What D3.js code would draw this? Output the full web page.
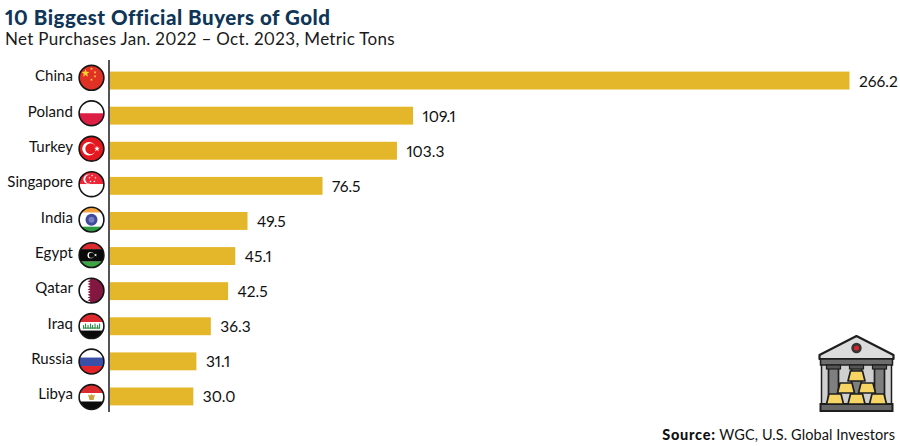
<!DOCTYPE html>
<html>
<head>
<meta charset="utf-8">
<script src="https://cdn.jsdelivr.net/npm/d3@7"></script>
<style>
    html, body { margin: 0; padding: 0; background: #fff; }
    svg { display: block; }
    text { font-family: Lato, "Open Sans", sans-serif; font-variant-numeric: proportional-nums lining-nums; }
</style>
</head>
<body>
<div id="chart"></div>
<script>
// chart values
var countries = ["China", "Poland", "Turkey", "Singapore", "India", "Egypt", "Qatar", "Iraq", "Russia", "Libya"];
var tons = [266.2, 109.1, 103.3, 76.5, 49.5, 45.1, 42.5, 36.3, 31.1, 30.0];
// flag drawn next to each label (the picture has Egypt and Libya swapped, kept as is)
var flags = ["china", "poland", "turkey", "singapore", "india", "libya", "qatar", "iraq", "russia", "egypt"];

var titleText = "10 Biggest Official Buyers of Gold";
var subtitleText = "Net Purchases Jan. 2022 \u2013 Oct. 2023, Metric Tons";
var sourceBold = "Source:";
var sourceText = " WGC, U.S. Global Investors";

var width = 900, height = 446;
var svg = d3.select("#chart").append("svg").attr("width", width).attr("height", height);

// scales - bars, labels and flags each sit on a slightly different spacing in the picture
var x = d3.scaleLinear().domain([0, 266.2]).range([110, 849.5]);
var y = d3.scaleBand().domain(countries).range([63, 414]).paddingInner(0.49).paddingOuter(0.245);
var labelY = d3.scalePoint().domain(countries).range([76, 394]);
var flagY = d3.scalePoint().domain(countries).range([77.8, 397]);

// titles
svg.append("text").attr("x", 5).attr("y", 24.5).attr("fill", "#0f3557")
    .style("font-size", "20.5px").style("font-weight", 900).style("letter-spacing", "0.52px").text(titleText);
svg.append("text").attr("x", 5).attr("y", 45).attr("fill", "#1a1a1a")
    .style("font-size", "17px").style("letter-spacing", "0.32px").text(subtitleText);

// bars
svg.selectAll("rect.bar").data(tons).enter().append("rect").attr("class", "bar")
    .attr("x", x(0))
    .attr("y", (d, i) => y(countries[i]))
    .attr("width", d => x(d) - x(0))
    .attr("height", y.bandwidth())
    .attr("fill", "#e4b62a");

// value labels
svg.selectAll("text.val").data(tons).enter().append("text").attr("class", "val")
    .attr("x", d => x(d) + 9.5)
    .attr("y", (d, i) => y(countries[i]) + y.bandwidth() / 2 + 6)
    .attr("fill", "#111")
    .style("font-size", "15.5px")
    .text(d => d.toFixed(1));

// axis line + country labels
var axisY = d3.axisLeft(labelY).tickSize(0).tickPadding(36);
var yAxis = svg.append("g").attr("transform", "translate(109,0)").call(axisY);
yAxis.select(".domain").remove();
yAxis.selectAll("text").attr("fill", "#111").attr("dy", "0.32em")
    .style("font-size", "15px").style("letter-spacing", "0.05px");
svg.append("line").attr("x1", 109).attr("x2", 109).attr("y1", 60).attr("y2", 412)
    .attr("stroke", "#2a2a2a").attr("stroke-width", 1.6);

// flags
var defs = svg.append("defs");
defs.append("clipPath").attr("id", "flagClip").append("circle").attr("r", 12.4);

function band(g, y0, h, color) {
    g.append("rect").attr("x", -13).attr("y", y0).attr("width", 26).attr("height", h).attr("fill", color);
}
function star(g, cx, cy, r, color) {
    var pts = d3.range(10).map(function(k) {
        var a = -Math.PI / 2 + k * Math.PI / 5, rr = k % 2 ? r * 0.42 : r;
        return [cx + rr * Math.cos(a), cy + rr * Math.sin(a)].join(",");
    });
    g.append("polygon").attr("points", pts.join(" ")).attr("fill", color);
}
var drawFlag = {
    china: function(g) {
        band(g, -13, 26, "#e03126");
        star(g, -6, -4.5, 4.2, "#f8d22c");
        [[0, -9], [3.5, -5.5], [3.5, -1.5], [0, 2]].forEach(p => star(g, p[0], p[1], 1.5, "#f8d22c"));
    },
    poland: function(g) {
        band(g, -13, 13, "#fff");
        band(g, 0, 13, "#dd1f45");
    },
    turkey: function(g) {
        band(g, -13, 26, "#e3191f");
        g.append("circle").attr("cx", -2.5).attr("r", 6.8).attr("fill", "#fff");
        g.append("circle").attr("cx", -0.8).attr("r", 5.4).attr("fill", "#e3191f");
        star(g, 5.5, 0, 3, "#fff");
    },
    singapore: function(g) {
        band(g, -13, 13, "#ee2536");
        band(g, 0, 13, "#fff");
        g.append("circle").attr("cx", -3.5).attr("cy", -5).attr("r", 4.6).attr("fill", "#fff");
        g.append("circle").attr("cx", -1.8).attr("cy", -5).attr("r", 4.4).attr("fill", "#ee2536");
        [[0, -9], [3.4, -6.6], [2.2, -3], [-1.6, -3], [-2.6, -6.6]].forEach(p => star(g, p[0] + 0.6, p[1] + 0.2, 1.2, "#fff"));
    },
    india: function(g) {
        band(g, -13, 6, "#f5a13c");
        band(g, -7, 14, "#fff");
        band(g, 7, 6, "#2f9a44");
        g.append("circle").attr("r", 6).attr("fill", "#3f4b9d");
        g.append("circle").attr("r", 3).attr("fill", "#7a7fc0");
    },
    libya: function(g) {
        band(g, -13, 7, "#dd2a2e");
        band(g, -6, 12.5, "#0a0a0a");
        band(g, 6.5, 7, "#3ca544");
        g.append("circle").attr("cx", -0.8).attr("r", 3.2).attr("fill", "#fff");
        g.append("circle").attr("cx", 0).attr("r", 2.6).attr("fill", "#0a0a0a");
        star(g, 4, 0, 1.7, "#fff");
    },
    qatar: function(g) {
        band(g, -13, 26, "#84173f");
        var pts = [[-13, -13], [-4, -13]];
        d3.range(9).forEach(function(k) {
            var yy = -12 + k * 2.7;
            pts.push([-1, yy + 1.35], [-4, yy + 2.7]);
        });
        pts.push([-13, 13]);
        g.append("polygon").attr("points", pts.map(p => p.join(",")).join(" ")).attr("fill", "#fff");
    },
    iraq: function(g) {
        band(g, -13, 9, "#dd2a2e");
        band(g, -4, 8.5, "#fff");
        band(g, 4.5, 9, "#0a0a0a");
        // green script reduced to a few strokes
        [-8, -6, -3.5, -1, 1, 3.5, 6, 8].forEach(function(sx, k) {
            g.append("rect").attr("x", sx - 0.5).attr("y", k % 2 ? -2.5 : -1).attr("width", 1.1).attr("height", k % 2 ? 5 : 3.5).attr("fill", "#2f8f4a");
        });
        g.append("rect").attr("x", -8.5).attr("y", 1.4).attr("width", 17).attr("height", 1.2).attr("fill", "#2f8f4a");
    },
    russia: function(g) {
        band(g, -13, 9, "#fff");
        band(g, -4, 8.5, "#3a50a8");
        band(g, 4.5, 9, "#e3242b");
    },
    egypt: function(g) {
        band(g, -13, 9, "#dd2a2e");
        band(g, -4, 8.5, "#fff");
        band(g, 4.5, 9, "#0a0a0a");
        g.append("path").attr("d", "M-3.5,-2.5L-1.5,-1.5L0,-3L1.5,-1.5L3.5,-2.5L2,3H-2Z").attr("fill", "#c9a03c");
    }
};
flags.forEach(function(f, i) {
    var g = svg.append("g").attr("transform", "translate(91.5," + flagY(countries[i]) + ")");
    var inner = g.append("g").attr("clip-path", "url(#flagClip)");
    drawFlag[f](inner);
    g.append("circle").attr("r", 12.4).attr("fill", "none").attr("stroke", "#151515").attr("stroke-width", 1.6);
});

// bank icon with gold bars
var icon = svg.append("g").attr("transform", "translate(856.5,383)");
var ink = "#1e1e1e";
function goldBar(bx, by) {
    icon.append("path").attr("d", "M" + (bx - 6) + "," + (by - 10) + "H" + (bx + 6) + "L" + (bx + 8.5) + "," + by + "H" + (bx - 8.5) + "Z")
        .attr("fill", "#f7d565").attr("stroke", ink).attr("stroke-width", 1.7).attr("stroke-linejoin", "round");
}
// wall
icon.append("rect").attr("x", -35).attr("y", -24).attr("width", 70).attr("height", 46).attr("fill", "#cfcfcf").attr("stroke", ink).attr("stroke-width", 1.5);
// roof
icon.append("path").attr("d", "M0,-47L37,-28V-24H-37V-28Z").attr("fill", "#dcdcdc").attr("stroke", ink).attr("stroke-width", 2.2).attr("stroke-linejoin", "round");
icon.append("rect").attr("x", -36).attr("y", -24).attr("width", 72).attr("height", 6).attr("fill", "#6d6d6d").attr("stroke", ink).attr("stroke-width", 1.5);
icon.append("circle").attr("cy", -35).attr("r", 5.2).attr("fill", "#333");
icon.append("circle").attr("cy", -35).attr("r", 2.6).attr("fill", "#d8232a");
// columns
[-23, 0, 23].forEach(function(cx) {
    icon.append("rect").attr("x", cx - 5).attr("y", -16).attr("width", 10).attr("height", 38).attr("fill", "#7f7f7f").attr("stroke", ink).attr("stroke-width", 1.7);
    icon.append("rect").attr("x", cx - 7).attr("y", -18).attr("width", 14).attr("height", 4).attr("fill", "#555").attr("stroke", ink).attr("stroke-width", 1.2);
});
// base + bars
icon.append("rect").attr("x", -36).attr("y", 21).attr("width", 72).attr("height", 7).attr("fill", "#666").attr("stroke", ink).attr("stroke-width", 2);
goldBar(0, -2); goldBar(-10.5, 10); goldBar(10.5, 10); goldBar(-21.5, 21); goldBar(0, 21); goldBar(21.5, 21);

// source note
var source = svg.append("text").attr("x", 895).attr("y", 440).attr("text-anchor", "end").attr("fill", "#111")
    .style("font-size", "14.5px");
source.append("tspan").style("font-weight", 900).style("letter-spacing", "0.75px").text(sourceBold);
source.append("tspan").style("letter-spacing", "0.08px").text(sourceText);
</script>
</body>
</html>
